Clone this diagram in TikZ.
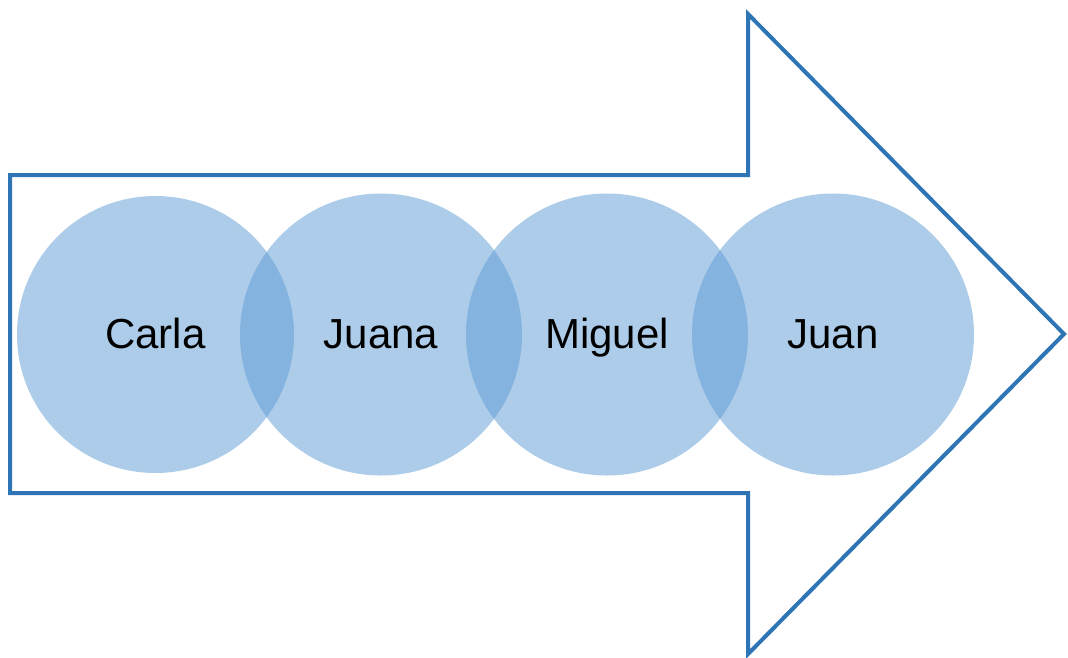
\documentclass[tikz,border=0pt]{standalone}
\usepackage{fontspec}
\setmainfont{Liberation Sans}
\definecolor{arrowblue}{RGB}{46,117,182}
\definecolor{circblue}{RGB}{91,155,213}
\tikzset{
  arrowshape/.style={draw=arrowblue, line width=4pt, miter limit=10, line join=miter, fill=white},
  person/.style={circle, minimum size=282pt, inner sep=0pt, fill=circblue, fill opacity=0.5, text opacity=1, text height=30pt, text depth=3pt, font=\fontsize{42}{48}\selectfont}
}
\begin{document}
\begin{tikzpicture}[x=1pt,y=-1pt]
\useasboundingbox (0,0) rectangle (1068,657);
\draw[arrowshape] (10,175) -- (748,175) -- (748,14) -- (1064,334) -- (748,654) -- (748,493) -- (10,493) -- cycle;
\node[person, minimum size=277pt] (carla) at (155.5,334.5) {Carla};
\node[person] (juana) at (381,334.5) {Juana};
\node[person] (miguel) at (607,334.5) {Miguel};
\node[person] (juan) at (833,334.5) {Juan};
\end{tikzpicture}
\end{document}
